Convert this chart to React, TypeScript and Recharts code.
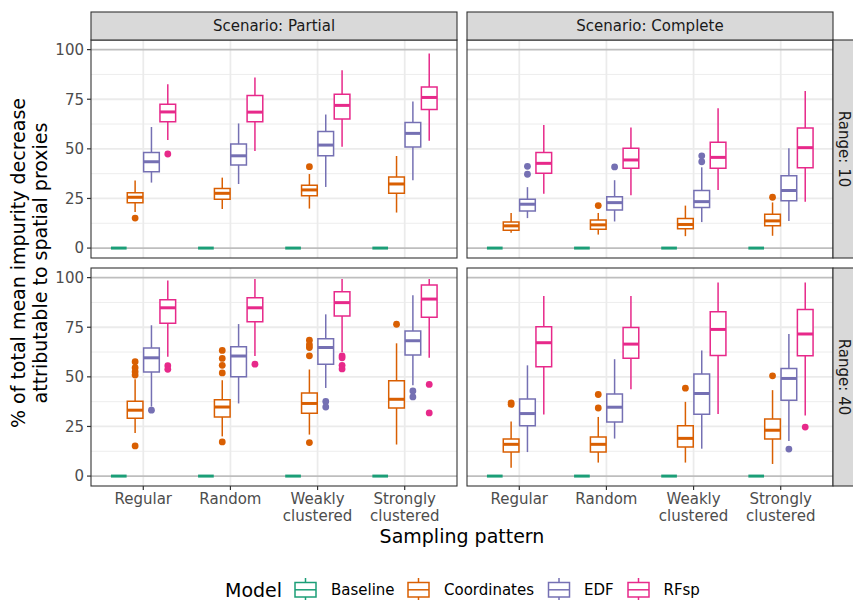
import React from 'react';
import {
  ComposedChart,
  XAxis,
  YAxis,
  CartesianGrid,
  ReferenceArea,
  ReferenceLine,
  Scatter,
} from 'recharts';

const FONT = '"DejaVu Sans", Verdana, sans-serif';

// Categories and labels
const patterns = ['Regular', 'Random', 'Weakly clustered', 'Strongly clustered'];
const models = ['Baseline', 'Coordinates', 'EDF', 'RFsp'];
const modelColors = ['#1B9E77', '#D95F02', '#7570B3', '#E7298A'];
const scenarioLabels = ['Scenario: Partial', 'Scenario: Complete'];
const rangeLabels = ['Range: 10', 'Range: 40'];
const yTicks = [0, 25, 50, 75, 100];
const yMinorGrid = [12.5, 37.5, 62.5, 87.5];
const yMajorGrid = [25, 50, 75];
const yRefLines = [0, 100];

// Five-number summaries [lower whisker, Q1, median, Q3, upper whisker],
// one row per sampling pattern.
const baselineStats = [
  [0, 0, 0, 0, 0],
  [0, 0, 0, 0, 0],
  [0, 0, 0, 0, 0],
  [0, 0, 0, 0, 0],
];

// Scenario: Partial, Range: 10
const partial10Coordinates = [
  [18.2, 22.9, 25.6, 27.9, 34.0],
  [19.7, 24.6, 27.6, 30.0, 35.5],
  [19.9, 26.4, 29.3, 31.7, 37.3],
  [17.9, 27.6, 32.3, 35.8, 46.4],
];
const partial10EDF = [
  [33.0, 38.5, 43.5, 48.2, 61.0],
  [32.3, 41.9, 46.5, 52.4, 62.8],
  [30.8, 46.5, 51.9, 58.8, 67.3],
  [34.2, 50.9, 57.8, 63.3, 73.9],
];
const partial10RFsp = [
  [54.4, 63.6, 68.6, 72.5, 82.6],
  [48.9, 63.6, 68.5, 76.9, 85.9],
  [51.1, 65.0, 71.9, 77.5, 89.6],
  [54.1, 69.8, 75.9, 81.2, 98.0],
];
// outliers as [pattern index, model index, value]
const partial10Outliers = [
  [0, 1, 15.1],
  [0, 3, 47.4],
  [2, 1, 41.0],
];

// Scenario: Complete, Range: 10
const complete10Coordinates = [
  [7.7, 9.0, 11.2, 13.1, 17.7],
  [6.8, 9.5, 11.7, 14.1, 17.7],
  [6.0, 9.7, 11.9, 14.9, 21.4],
  [6.2, 11.2, 13.7, 17.1, 23.0],
];
const complete10EDF = [
  [15.1, 18.7, 22.1, 24.6, 30.7],
  [13.4, 19.2, 22.9, 25.9, 34.2],
  [13.1, 20.4, 23.4, 29.0, 40.7],
  [13.7, 23.9, 29.0, 36.5, 50.3],
];
const complete10RFsp = [
  [27.4, 37.7, 42.7, 48.2, 62.0],
  [26.6, 40.2, 44.4, 50.3, 60.8],
  [29.3, 40.2, 45.7, 53.3, 70.5],
  [23.4, 40.5, 50.6, 60.5, 79.2],
];
const complete10Outliers = [
  [0, 2, 41.2],
  [0, 2, 37.2],
  [1, 1, 21.4],
  [1, 2, 40.9],
  [2, 2, 46.5],
  [2, 2, 43.5],
  [3, 1, 25.6],
];

// Scenario: Partial, Range: 40
const partial40Coordinates = [
  [21.7, 29.1, 33.2, 37.7, 48.8],
  [20.0, 29.8, 34.8, 38.4, 48.3],
  [20.9, 31.7, 36.6, 41.8, 53.7],
  [15.9, 34.3, 38.7, 48.0, 66.9],
];
const partial40EDF = [
  [35.0, 52.5, 59.6, 64.6, 76.0],
  [36.6, 50.0, 60.5, 65.2, 76.6],
  [44.4, 56.3, 64.8, 69.2, 81.5],
  [45.8, 61.0, 68.2, 73.1, 91.1],
];
const partial40RFsp = [
  [60.1, 77.0, 84.8, 88.9, 98.5],
  [60.5, 77.8, 84.8, 89.9, 99.3],
  [62.5, 80.7, 87.4, 92.9, 99.3],
  [59.6, 80.0, 89.2, 96.3, 99.3],
];
const partial40Outliers = [
  [0, 1, 57.6],
  [0, 1, 54.6],
  [0, 1, 52.6],
  [0, 1, 50.9],
  [0, 1, 15.2],
  [0, 2, 33.2],
  [0, 3, 55.6],
  [0, 3, 53.8],
  [1, 1, 63.3],
  [1, 1, 59.3],
  [1, 1, 55.8],
  [1, 1, 52.0],
  [1, 1, 17.2],
  [1, 3, 56.4],
  [2, 1, 68.5],
  [2, 1, 66.2],
  [2, 1, 64.8],
  [2, 1, 60.6],
  [2, 1, 16.9],
  [2, 2, 37.6],
  [2, 2, 34.8],
  [2, 3, 60.6],
  [2, 3, 59.6],
  [2, 3, 55.8],
  [2, 3, 54.0],
  [3, 1, 76.5],
  [3, 2, 42.9],
  [3, 2, 39.9],
  [3, 3, 46.2],
  [3, 3, 31.8],
];

// Scenario: Complete, Range: 40
const complete40Coordinates = [
  [4.2, 12.1, 16.0, 18.7, 27.5],
  [6.8, 12.1, 16.0, 19.7, 29.8],
  [6.8, 14.6, 19.0, 25.3, 37.4],
  [6.1, 18.7, 23.1, 28.8, 43.3],
];
const complete40EDF = [
  [12.1, 25.3, 31.5, 38.9, 55.8],
  [18.9, 27.3, 34.7, 41.3, 58.9],
  [13.8, 31.2, 41.6, 51.4, 63.3],
  [17.7, 38.2, 49.2, 54.2, 71.6],
];
const complete40RFsp = [
  [31.0, 55.1, 67.2, 75.3, 90.8],
  [43.8, 59.4, 66.5, 74.9, 90.8],
  [31.3, 60.8, 73.9, 82.8, 97.5],
  [30.5, 60.6, 71.6, 84.0, 97.5],
];
const complete40Outliers = [
  [0, 1, 36.9],
  [0, 1, 36.1],
  [1, 1, 41.1],
  [1, 1, 34.3],
  [2, 1, 44.3],
  [3, 1, 50.5],
  [3, 2, 13.6],
  [3, 3, 24.7],
];

const panels = [
  { row: 0, col: 0, stats: [baselineStats, partial10Coordinates, partial10EDF, partial10RFsp], outliers: partial10Outliers },
  { row: 0, col: 1, stats: [baselineStats, complete10Coordinates, complete10EDF, complete10RFsp], outliers: complete10Outliers },
  { row: 1, col: 0, stats: [baselineStats, partial40Coordinates, partial40EDF, partial40RFsp], outliers: partial40Outliers },
  { row: 1, col: 1, stats: [baselineStats, complete40Coordinates, complete40EDF, complete40RFsp], outliers: complete40Outliers },
];

// Layout
const PLOT_W = 366;
const PLOT_H = 218;
const AXIS_W = 91;
const X_AXIS_H = 44;
const COL_X = [91, 467];
const ROW_Y = [40, 268];
const STRIP = 28;

const DODGE = 0.1875; // width of one model slot in category units
const HALF = 0.09; // half box width
const X_DOMAIN: [number, number] = [0.4, 4.6];
const Y_DOMAIN: [number, number] = [-5, 104.85];

const tickLines = patterns.map((p) => p.split(' '));

function PatternTick(props: any) {
  const { x, y, payload } = props;
  const lines = tickLines[Math.round(payload.value) - 1] || [];
  return (
    <text x={x} y={y + 12} textAnchor="middle" fill="#4D4D4D" fontSize={15} fontFamily={FONT}>
      {lines.map((l: string, i: number) => (
        <tspan key={i} x={x} dy={i === 0 ? 0 : 17}>
          {l}
        </tspan>
      ))}
    </text>
  );
}

function BoxPanel({ stats, outliers, showX, showY }: any) {
  const width = (showY ? AXIS_W : 0) + PLOT_W;
  const height = PLOT_H + (showX ? X_AXIS_H : 0);
  const areas: any[] = [];
  const lines: any[] = [];
  stats.forEach((rows: number[][], m: number) => {
    const color = modelColors[m];
    rows.forEach(([lo, q1, med, q3, hi], p) => {
      const cx = p + 1 + (m - 1.5) * DODGE;
      const key = `${m}-${p}`;
      if (q3 > q1) {
        areas.push(
          <ReferenceArea
            key={'box' + key}
            x1={cx - HALF}
            x2={cx + HALF}
            y1={q1}
            y2={q3}
            fill="#FFFFFF"
            fillOpacity={1}
            stroke={color}
            strokeWidth={1.5}
            ifOverflow="visible"
          />
        );
      }
      if (hi > q3) {
        lines.push(
          <ReferenceLine key={'hi' + key} segment={[{ x: cx, y: q3 }, { x: cx, y: hi }]} stroke={color} strokeWidth={1.5} ifOverflow="visible" />
        );
      }
      if (lo < q1) {
        lines.push(
          <ReferenceLine key={'lo' + key} segment={[{ x: cx, y: lo }, { x: cx, y: q1 }]} stroke={color} strokeWidth={1.5} ifOverflow="visible" />
        );
      }
      lines.push(
        <ReferenceLine
          key={'med' + key}
          segment={[{ x: cx - HALF, y: med }, { x: cx + HALF, y: med }]}
          stroke={color}
          strokeWidth={3}
          ifOverflow="visible"
        />
      );
    });
  });

  return (
    <ComposedChart width={width} height={height} margin={{ top: 0, right: 0, bottom: 0, left: 0 }}>
      <CartesianGrid horizontalValues={yMinorGrid} vertical={false} stroke="#EBEBEB" strokeWidth={0.9} />
      <CartesianGrid horizontalValues={yMajorGrid} verticalValues={[1, 2, 3, 4]} stroke="#EBEBEB" strokeWidth={1.8} />
      <CartesianGrid horizontalValues={yRefLines} vertical={false} stroke="#BEBEBE" strokeWidth={1.6} />
      <XAxis
        type="number"
        dataKey="x"
        domain={X_DOMAIN}
        ticks={[1, 2, 3, 4]}
        interval={0}
        allowDataOverflow
        hide={!showX}
        height={X_AXIS_H}
        axisLine={false}
        tickLine={{ stroke: '#333333', strokeWidth: 1.2 }}
        tickSize={4}
        tickMargin={2}
        tick={<PatternTick />}
      />
      <YAxis
        type="number"
        dataKey="y"
        domain={Y_DOMAIN}
        ticks={yTicks}
        interval={0}
        allowDataOverflow
        hide={!showY}
        width={AXIS_W}
        axisLine={false}
        tickLine={{ stroke: '#333333', strokeWidth: 1.2 }}
        tickSize={4}
        tickMargin={3}
        tick={{ fill: '#4D4D4D', fontSize: 15, fontFamily: FONT }}
      />
      {areas}
      {lines}
      {models.map((name, m) => (
        <Scatter
          key={name}
          name={name}
          dataKey="y"
          data={outliers
            .filter((o: number[]) => o[1] === m)
            .map((o: number[]) => ({ x: o[0] + 1 + (m - 1.5) * DODGE, y: o[2] }))}
          fill={modelColors[m]}
          isAnimationActive={false}
          shape={(p: any) => <circle cx={p.cx} cy={p.cy} r={3.4} fill={modelColors[m]} />}
        />
      ))}
    </ComposedChart>
  );
}

function LegendKey({ x, color }: { x: number; color: string }) {
  return (
    <g>
      <line x1={x + 11.5} x2={x + 11.5} y1={578} y2={601} stroke={color} strokeWidth={1.5} />
      <rect x={x + 1} y={582.5} width={21} height={14.5} fill="#FFFFFF" stroke={color} strokeWidth={1.5} />
      <line x1={x + 1} x2={x + 22} y1={589.8} y2={589.8} stroke={color} strokeWidth={1.5} />
    </g>
  );
}

const legendKeyX = [294, 407, 547.5, 627];
const legendTextX = [331, 444, 584, 663.5];

export default function App() {
  return (
    <div
      style={{
        position: 'absolute',
        left: 0,
        top: 0,
        width: 853,
        height: 600,
        overflow: 'hidden',
        background: '#FFFFFF',
        fontFamily: FONT,
      }}
    >
      {panels.map((pn, i) => {
        const showY = pn.col === 0;
        const showX = pn.row === 1;
        return (
          <div
            key={i}
            style={{
              position: 'absolute',
              left: showY ? COL_X[0] - AXIS_W : COL_X[1],
              top: ROW_Y[pn.row],
            }}
          >
            <BoxPanel stats={pn.stats} outliers={pn.outliers} showX={showX} showY={showY} />
          </div>
        );
      })}
      <svg
        width={853}
        height={600}
        style={{ position: 'absolute', left: 0, top: 0, pointerEvents: 'none' }}
        fontFamily={FONT}
      >
        {/* panel borders */}
        {panels.map((pn, i) => (
          <rect
            key={'border' + i}
            x={COL_X[pn.col]}
            y={ROW_Y[pn.row]}
            width={PLOT_W}
            height={PLOT_H}
            fill="none"
            stroke="#333333"
            strokeWidth={1.1}
          />
        ))}
        {/* column strips */}
        {scenarioLabels.map((label, c) => (
          <g key={'cs' + c}>
            <rect x={COL_X[c]} y={ROW_Y[0] - STRIP} width={PLOT_W} height={STRIP} fill="#D9D9D9" stroke="#333333" strokeWidth={1.1} />
            <text
              x={COL_X[c] + PLOT_W / 2}
              y={ROW_Y[0] - STRIP / 2}
              textAnchor="middle"
              dominantBaseline="central"
              fontSize={15}
              fill="#1A1A1A"
            >
              {label}
            </text>
          </g>
        ))}
        {/* row strips */}
        {rangeLabels.map((label, r) => (
          <g key={'rs' + r}>
            <rect x={COL_X[1] + PLOT_W} y={ROW_Y[r]} width={STRIP} height={PLOT_H} fill="#D9D9D9" stroke="#333333" strokeWidth={1.1} />
            <text
              transform={`translate(${COL_X[1] + PLOT_W + 11}, ${ROW_Y[r] + PLOT_H / 2}) rotate(90)`}
              textAnchor="middle"
              dominantBaseline="central"
              fontSize={15}
              fill="#1A1A1A"
            >
              {label}
            </text>
          </g>
        ))}
        {/* axis titles */}
        <text transform="translate(25, 263) rotate(-90)" textAnchor="middle" fontSize={19} fill="#000000">
          % of total mean impurity decrease
        </text>
        <text transform="translate(47, 263) rotate(-90)" textAnchor="middle" fontSize={19} fill="#000000">
          attributable to spatial proxies
        </text>
        <text x={462} y={543} textAnchor="middle" fontSize={19} fill="#000000">
          Sampling pattern
        </text>
        {/* legend */}
        <text x={225} y={590} dominantBaseline="central" fontSize={19} fill="#000000">
          Model
        </text>
        {models.map((name, m) => (
          <g key={'lg' + name}>
            <LegendKey x={legendKeyX[m]} color={modelColors[m]} />
            <text x={legendTextX[m]} y={590} dominantBaseline="central" fontSize={15} fill="#000000">
              {name}
            </text>
          </g>
        ))}
      </svg>
    </div>
  );
}
